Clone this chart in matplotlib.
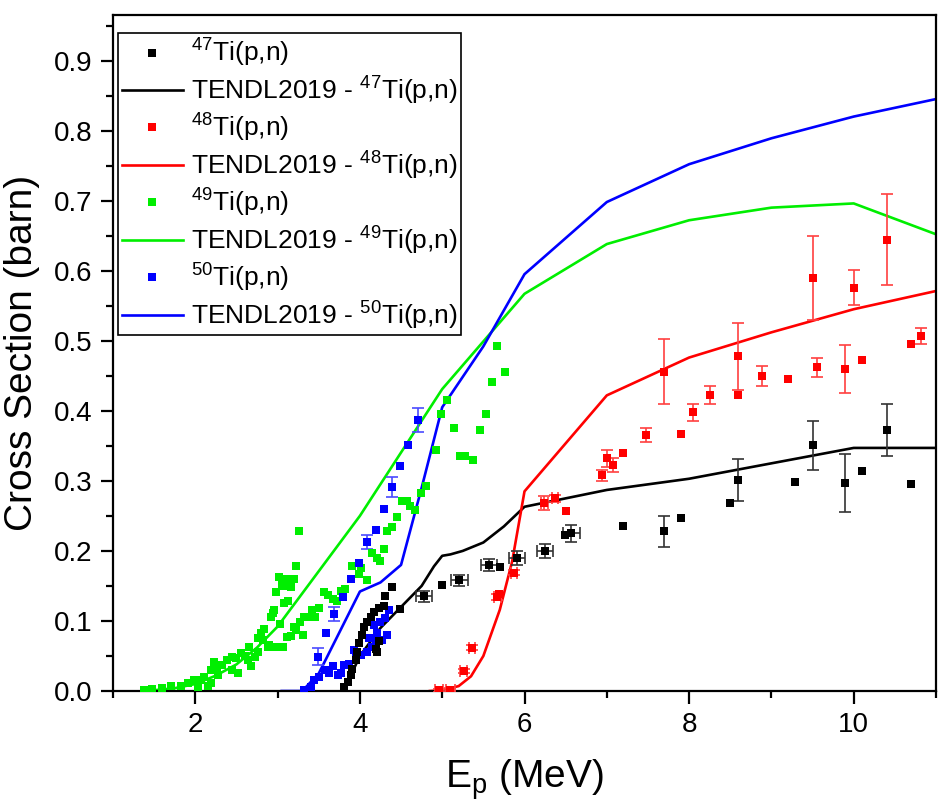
import matplotlib
matplotlib.use("Agg")
import matplotlib.pyplot as plt
from matplotlib.lines import Line2D
from matplotlib.ticker import MultipleLocator

plt.rcParams['font.family'] = ['Liberation Sans', 'DejaVu Sans']
plt.rcParams['mathtext.fontset'] = 'custom'
plt.rcParams['mathtext.rm'] = 'Liberation Sans'
plt.rcParams['mathtext.it'] = 'Liberation Sans:italic'
plt.rcParams['mathtext.default'] = 'regular'

# ---------------- TENDL-2019 evaluated curves ----------------
t47_x = [3.8, 4.0, 4.25, 4.5, 4.75, 4.9, 5.0, 5.1, 5.25, 5.5, 5.75, 6.0, 7.0, 8.0, 9.0, 10.0, 11.0]
t47_y = [0.0, 0.05, 0.09, 0.12, 0.15, 0.178, 0.193, 0.195, 0.200, 0.212, 0.235, 0.263, 0.287, 0.303, 0.325, 0.347, 0.347]

t48_x = [4.85, 5.0, 5.2, 5.35, 5.5, 5.7, 5.85, 6.0, 7.0, 8.0, 9.0, 10.0, 11.0]
t48_y = [0.0, 0.001, 0.007, 0.021, 0.05, 0.116, 0.185, 0.285, 0.422, 0.476, 0.512, 0.545, 0.571]

t49_x = [1.4, 1.75, 2.0, 2.25, 2.5, 2.75, 3.0, 4.0, 5.0, 6.0, 7.0, 8.0, 9.0, 10.0, 11.0]
t49_y = [0.0, 0.004, 0.010, 0.022, 0.038, 0.062, 0.092, 0.250, 0.431, 0.567, 0.638, 0.672, 0.690, 0.696, 0.652]

t50_x = [3.05, 3.3, 3.5, 4.0, 4.25, 4.5, 4.75, 5.0, 5.5, 6.0, 7.0, 8.0, 9.0, 10.0, 11.0]
t50_y = [0.0, 0.0, 0.025, 0.142, 0.155, 0.180, 0.290, 0.405, 0.492, 0.595, 0.698, 0.752, 0.789, 0.820, 0.845]

# ---------------- measured data ----------------
ti47_x = [3.81, 3.85, 3.89, 3.91, 3.95, 3.97, 3.99, 4.03, 4.05, 4.09, 4.13, 4.17, 4.19, 4.21, 4.23,
          4.23, 4.29, 4.31, 4.39, 4.49, 4.78, 5.00, 5.21, 5.57, 5.70, 5.91, 6.25, 6.49, 6.57,
          7.20, 7.69, 7.90, 8.50, 8.60, 9.29, 9.50, 9.90, 10.10, 10.41, 10.70]
ti47_y = [0.006, 0.013, 0.023, 0.032, 0.044, 0.056, 0.068, 0.080, 0.092, 0.099, 0.106, 0.113, 0.060, 0.056, 0.072,
          0.118, 0.121, 0.135, 0.149, 0.117, 0.135, 0.152, 0.158, 0.180, 0.177, 0.190, 0.200, 0.222, 0.225,
          0.236, 0.228, 0.247, 0.268, 0.301, 0.298, 0.351, 0.297, 0.314, 0.373, 0.295]
ti47_xerr = [0.0] * 20 + [0.1, 0.0, 0.1, 0.1, 0.0, 0.1, 0.1, 0.0, 0.1] + [0.0] * 11
ti47_yerr = [0.0] * 20 + [0.008, 0.0, 0.008, 0.008, 0.0, 0.01, 0.01, 0.0, 0.012,
                          0.0, 0.022, 0.0, 0.0, 0.030, 0.0, 0.035, 0.042, 0.0, 0.037, 0.0]

ti48_x = [4.96, 5.10, 5.26, 5.36, 5.67, 5.69, 5.87, 6.24, 6.37, 6.50, 6.94, 7.00, 7.07, 7.20, 7.48,
          7.70, 7.90, 8.05, 8.26, 8.60, 8.60, 8.88, 9.20, 9.50, 9.56, 9.90, 10.00, 10.10, 10.40, 10.70, 10.82]
ti48_y = [0.001, 0.002, 0.029, 0.062, 0.134, 0.138, 0.169, 0.268, 0.275, 0.257, 0.308, 0.332, 0.322, 0.340, 0.365,
          0.456, 0.367, 0.398, 0.422, 0.478, 0.422, 0.450, 0.445, 0.589, 0.462, 0.460, 0.576, 0.472, 0.644, 0.495, 0.507]
ti48_xerr = [0.05, 0.05, 0.04, 0.04, 0.04, 0.0, 0.04, 0.04, 0.04, 0.0] + [0.0] * 21
ti48_yerr = [0.002, 0.002, 0.003, 0.003, 0.004, 0.0, 0.004, 0.01, 0.005, 0.0, 0.008, 0.012, 0.01, 0.0, 0.01,
             0.046, 0.0, 0.012, 0.013, 0.048, 0.0, 0.014, 0.0, 0.06, 0.014, 0.034, 0.025, 0.0, 0.065, 0.0, 0.011]

ti49_x = [1.38, 1.47, 1.59, 1.71, 1.83, 1.91, 1.99, 2.03, 2.07, 2.11, 2.15, 2.19, 2.19, 2.23, 2.26, 2.27,
          2.32, 2.38, 2.44, 2.44, 2.50, 2.52, 2.56, 2.60, 2.64, 2.65, 2.68, 2.72, 2.76, 2.76, 2.80, 2.82, 2.84,
          2.88, 2.90, 2.92, 2.94, 2.96, 2.98, 2.98, 3.02, 3.03, 3.05, 3.06, 3.06, 3.08, 3.10, 3.12, 3.13,
          3.16, 3.16, 3.20, 3.20, 3.22, 3.22, 3.26, 3.27, 3.31, 3.32, 3.36, 3.42, 3.46, 3.50, 3.56, 3.61,
          3.67, 3.72, 3.77, 3.82, 3.91, 3.99, 4.01, 4.09, 4.15, 4.21, 4.24, 4.29, 4.33, 4.39, 4.45, 4.51,
          4.57, 4.61, 4.67, 4.74, 4.80, 4.92, 4.98, 5.06, 5.14, 5.22, 5.28, 5.37, 5.46, 5.53, 5.60, 5.67, 5.76]
ti49_y = [0.0015, 0.003, 0.004, 0.007, 0.007, 0.011, 0.016, 0.006, 0.016, 0.020, 0.007, 0.011, 0.030, 0.042, 0.033, 0.023,
          0.037, 0.044, 0.049, 0.030, 0.047, 0.026, 0.054, 0.050, 0.044, 0.063, 0.036, 0.048, 0.056, 0.076, 0.083, 0.073, 0.089,
          0.063, 0.066, 0.106, 0.111, 0.115, 0.142, 0.063, 0.163, 0.096, 0.152, 0.063, 0.150, 0.126, 0.160, 0.077, 0.128,
          0.149, 0.078, 0.160, 0.092, 0.178, 0.087, 0.228, 0.099, 0.080, 0.106, 0.106, 0.116, 0.106, 0.119, 0.142, 0.137,
          0.132, 0.129, 0.143, 0.146, 0.179, 0.167, 0.176, 0.158, 0.197, 0.190, 0.185, 0.203, 0.229, 0.234, 0.248, 0.271,
          0.271, 0.264, 0.258, 0.283, 0.292, 0.344, 0.395, 0.416, 0.376, 0.335, 0.335, 0.330, 0.372, 0.395, 0.441, 0.492, 0.456]

ti50_x = [3.32, 3.40, 3.44, 3.49, 3.50, 3.58, 3.59, 3.63, 3.67, 3.69, 3.73, 3.77, 3.79, 3.81, 3.87, 3.89,
          3.93, 3.95, 3.99, 4.01, 4.09, 4.09, 4.11, 4.15, 4.17, 4.19, 4.19, 4.21, 4.25, 4.27, 4.29, 4.31,
          4.33, 4.35, 4.39, 4.49, 4.59, 4.70]
ti50_y = [0.002, 0.006, 0.016, 0.049, 0.020, 0.030, 0.083, 0.025, 0.035, 0.110, 0.023, 0.025, 0.134, 0.037, 0.039, 0.160,
          0.059, 0.047, 0.183, 0.052, 0.056, 0.212, 0.075, 0.063, 0.094, 0.072, 0.230, 0.083, 0.099, 0.073, 0.260, 0.104,
          0.080, 0.115, 0.291, 0.321, 0.351, 0.387]
ti50_yerr = [0.0, 0.0, 0.0, 0.012, 0.0, 0.0, 0.0, 0.0, 0.0, 0.010, 0.0, 0.0, 0.0, 0.0, 0.0, 0.0,
             0.0, 0.0, 0.0, 0.0, 0.0, 0.010, 0.0, 0.0, 0.0, 0.0, 0.0, 0.0, 0.0, 0.0, 0.0, 0.0,
             0.0, 0.0, 0.014, 0.0, 0.0, 0.017]

labels_data = [r'$^{47}$Ti(p,n)', r'$^{48}$Ti(p,n)', r'$^{49}$Ti(p,n)', r'$^{50}$Ti(p,n)']
labels_tendl = [r'TENDL2019 - $^{47}$Ti(p,n)', r'TENDL2019 - $^{48}$Ti(p,n)',
                r'TENDL2019 - $^{49}$Ti(p,n)', r'TENDL2019 - $^{50}$Ti(p,n)']
colors = ['#000000', '#ff0000', '#00ee00', '#0000ff']
ecolors = ['#333333', '#ff4040', '#00ee00', '#4a4aff']

fig = plt.figure(figsize=(9.38, 8.01), dpi=100)
ax = fig.add_axes([113 / 938, 110 / 801, (936 - 113) / 938, (691 - 15) / 801])

ms = 5.5
lw = 1.9

tendl = [(t47_x, t47_y), (t48_x, t48_y), (t49_x, t49_y), (t50_x, t50_y)]
for (tx, ty), c in zip(tendl, colors):
    ax.plot(tx, ty, color=c, lw=lw, zorder=2)

ekw = dict(fmt='none', elinewidth=1.2, capsize=4.5, capthick=1.2, zorder=3)


def draw(x, y, c, ec, xerr=None, yerr=None):
    if xerr is not None:
        sel = [i for i, e in enumerate(xerr) if e > 0]
        if sel:
            ax.errorbar([x[i] for i in sel], [y[i] for i in sel],
                        xerr=[xerr[i] for i in sel], ecolor=ec, **ekw)
    if yerr is not None:
        sel = [i for i, e in enumerate(yerr) if e > 0]
        if sel:
            ax.errorbar([x[i] for i in sel], [y[i] for i in sel],
                        yerr=[yerr[i] for i in sel], ecolor=ec, **ekw)
    ax.plot(x, y, 's', color=c, ms=ms, markeredgewidth=0, ls='none', zorder=4)


draw(ti49_x, ti49_y, colors[2], ecolors[2])
draw(ti50_x, ti50_y, colors[3], ecolors[3], yerr=ti50_yerr)
draw(ti47_x, ti47_y, colors[0], ecolors[0], xerr=ti47_xerr, yerr=ti47_yerr)
draw(ti48_x, ti48_y, colors[1], ecolors[1], xerr=ti48_xerr, yerr=ti48_yerr)

ax.set_xlim(1, 11)
ax.set_ylim(0, 0.965)
ax.xaxis.set_major_locator(MultipleLocator(2))
ax.xaxis.set_minor_locator(MultipleLocator(1))
ax.yaxis.set_major_locator(MultipleLocator(0.1))
ax.yaxis.set_minor_locator(MultipleLocator(0.05))
ax.yaxis.set_major_formatter(matplotlib.ticker.FormatStrFormatter('%.1f'))
ax.tick_params(which='major', direction='out', length=9, width=1.6, labelsize=20, pad=6)
ax.tick_params(which='minor', direction='out', length=5, width=1.6)
ax.tick_params(top=False, right=False)
for s in ax.spines.values():
    s.set_linewidth(1.6)

ax.set_xlabel(r'E$_p$ (MeV)', fontsize=28, labelpad=14)
ax.set_ylabel('Cross Section (barn)', fontsize=28, labelpad=10)

handles = []
labels = []
for c, ld, lt in zip(colors, labels_data, labels_tendl):
    handles.append(Line2D([], [], color=c, marker='s', ls='none', ms=ms, markeredgewidth=0))
    labels.append(ld)
    handles.append(Line2D([], [], color=c, lw=lw))
    labels.append(lt)

leg = ax.legend(handles, labels, loc='upper left', bbox_to_anchor=(118 / 938, 1 - 33 / 801),
                bbox_transform=fig.transFigure, borderaxespad=0, fontsize=19, frameon=True,
                fancybox=False, edgecolor='black', framealpha=1, handlelength=2.3,
                handletextpad=0.3, labelspacing=0.2, borderpad=0.15)
leg.get_frame().set_linewidth(1.2)
leg.set_zorder(10)

fig.savefig('out.png', dpi=100)
